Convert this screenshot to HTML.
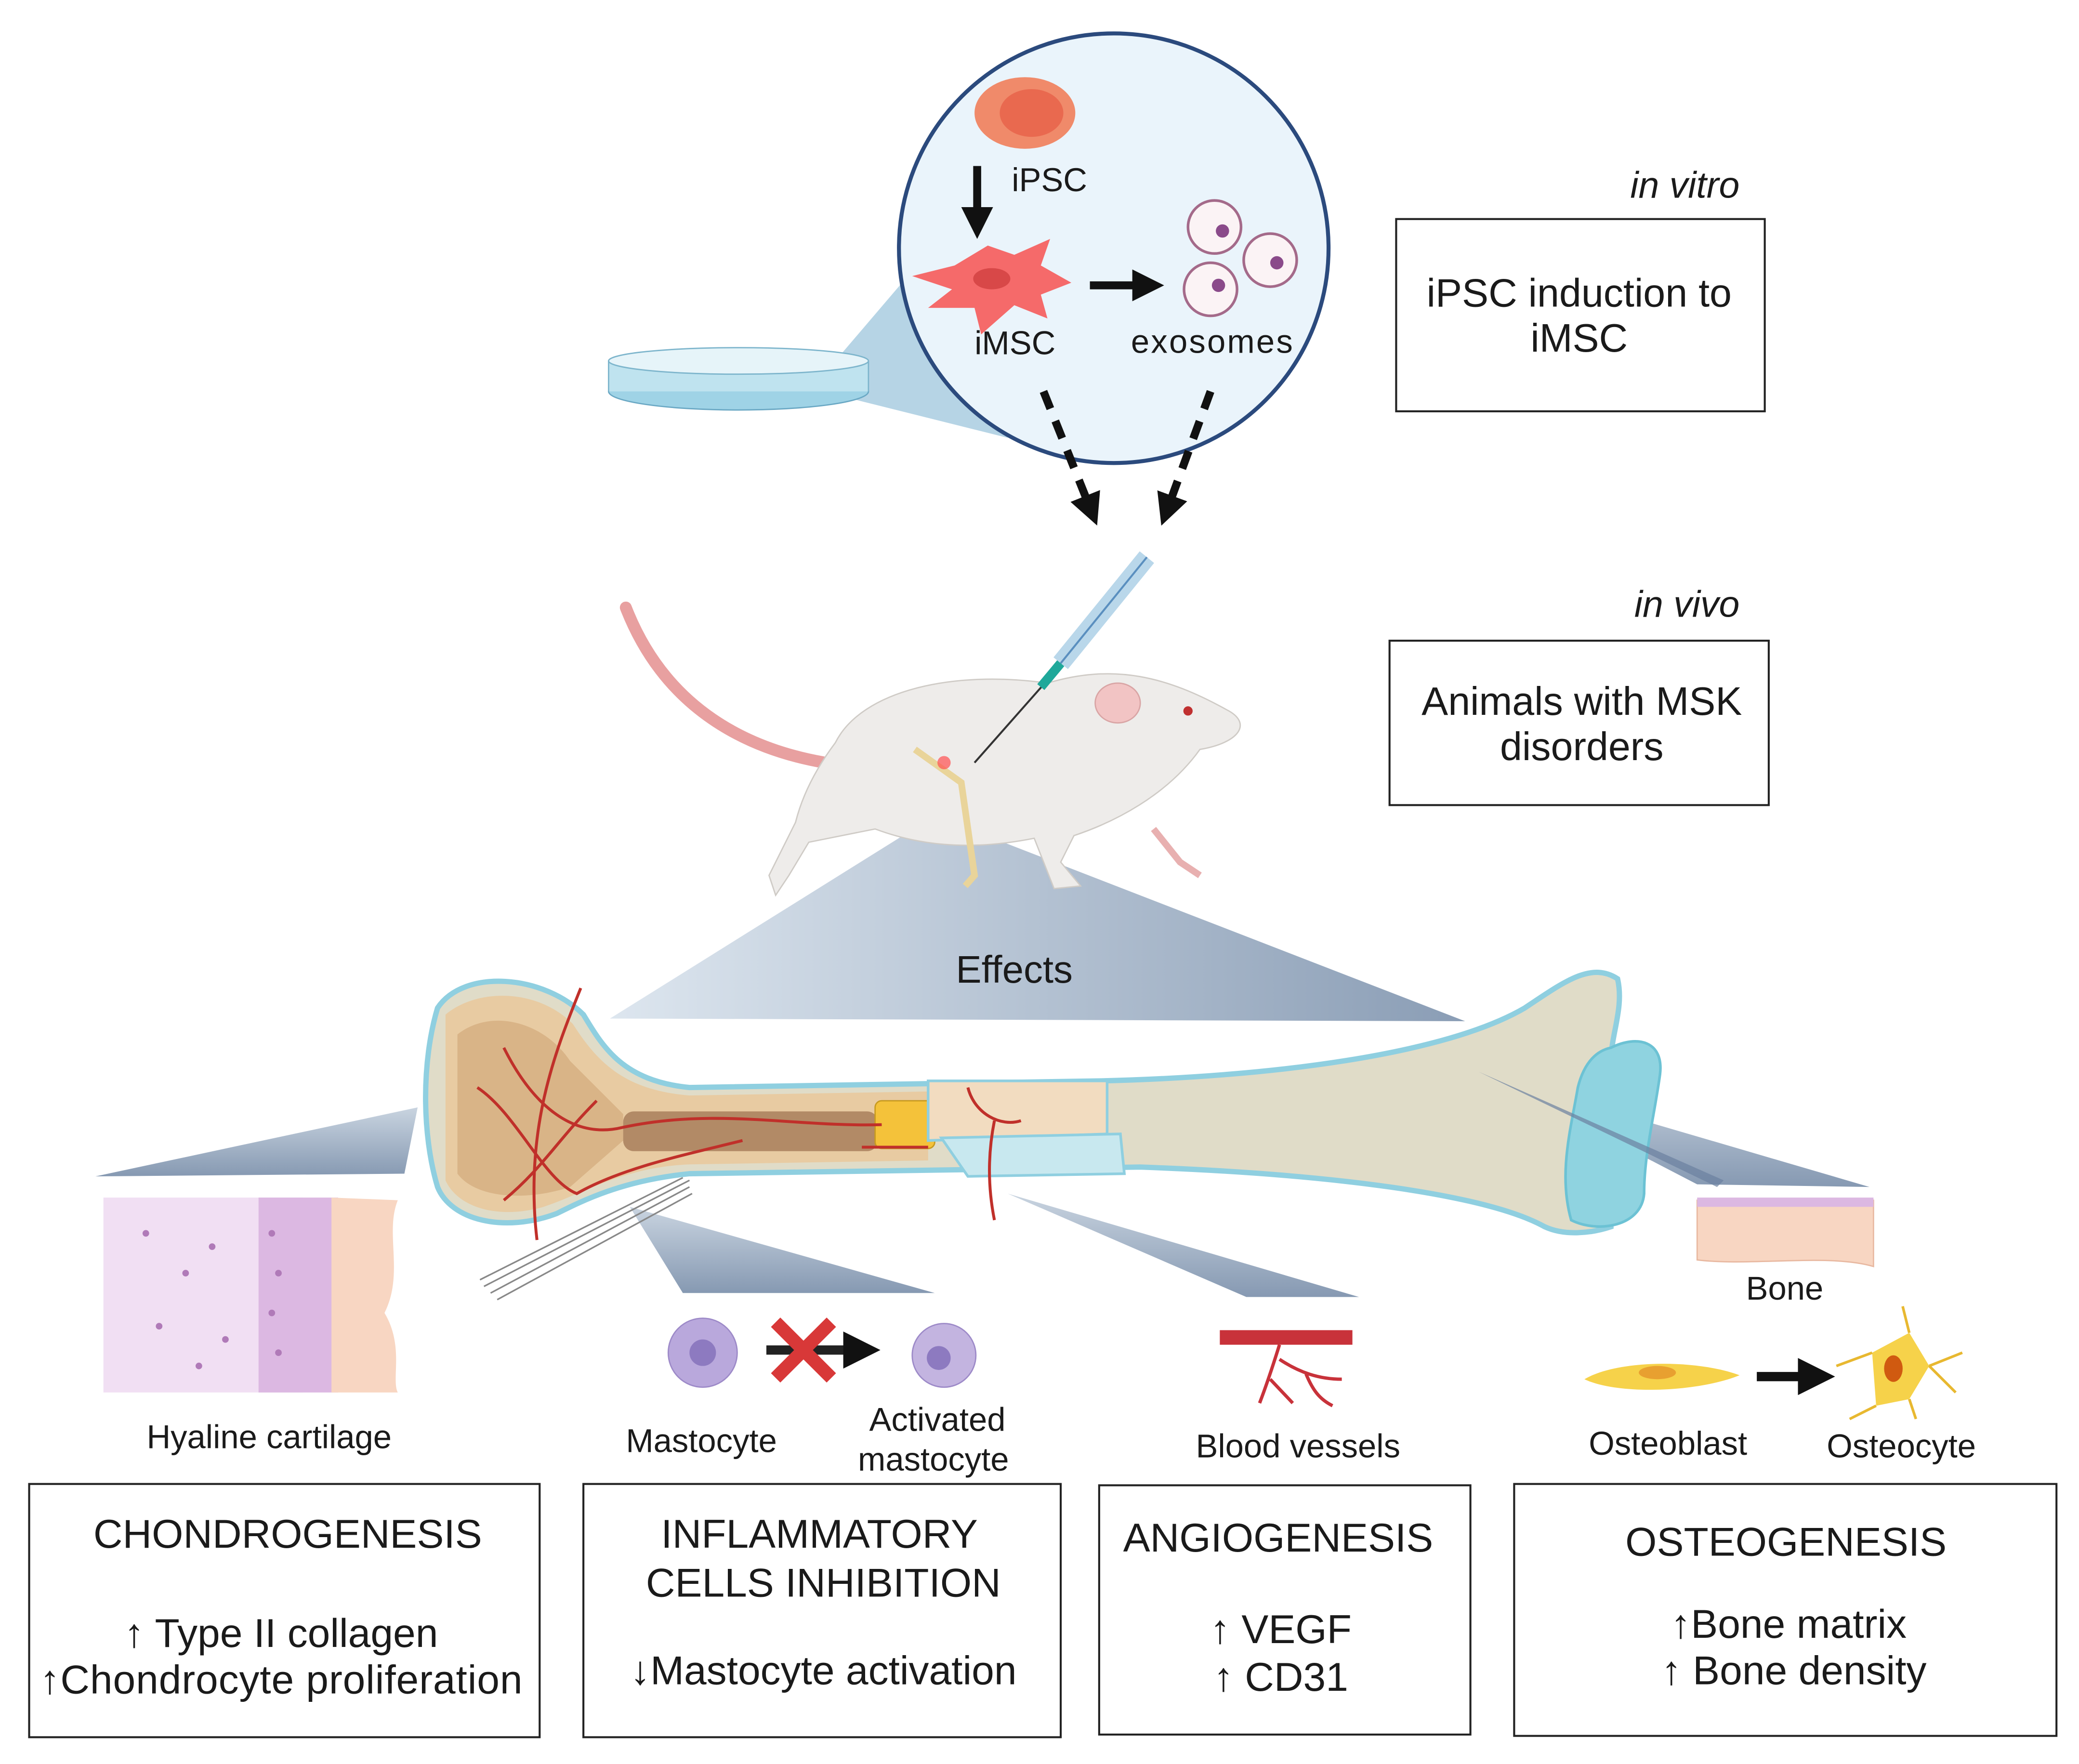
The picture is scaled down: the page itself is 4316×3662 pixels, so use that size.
<!DOCTYPE html>
<html><head><meta charset="utf-8"><style>
html,body{margin:0;padding:0;background:#fff}
svg{display:block}
text{font-family:"Liberation Sans",Arial,sans-serif;fill:#1a1a1a}
</style></head><body>
<svg width="4316" height="3662" viewBox="0 0 1568 1330" xmlns="http://www.w3.org/2000/svg">
<defs>
<linearGradient id="tri" x1="0" x2="1" y1="0" y2="0"><stop offset="0" stop-color="#dde6ef"/><stop offset="1" stop-color="#8a9db5"/></linearGradient>
<linearGradient id="wedge" x1="0" x2="0" y1="0" y2="1"><stop offset="0" stop-color="#c9d4e0"/><stop offset="1" stop-color="#8699b2"/></linearGradient>
<marker id="ah" markerWidth="4" markerHeight="4" refX="2" refY="2" orient="auto"><path d="M0,0 L4,2 L0,4 Z" fill="#111"/></marker>
</defs>
<rect width="1568" height="1330" fill="#fff"/>

<polygon points="630,272 700,190 760,330 640,300" fill="#a9cde0" opacity="0.85"/>
<ellipse cx="557" cy="295" rx="98" ry="14" fill="#9fd3e6" stroke="#6aa8c4"/>
<rect x="459" y="272" width="196" height="23" fill="#bfe3ef" stroke="none"/>
<ellipse cx="557" cy="272" rx="98" ry="10" fill="#e6f4f9" stroke="#7db5cc"/>
<line x1="459" y1="272" x2="459" y2="295" stroke="#7db5cc"/><line x1="655" y1="272" x2="655" y2="295" stroke="#7db5cc"/>

<circle cx="840" cy="187" r="162" fill="#eaf4fb" stroke="#2b4a7d" stroke-width="3"/>
<ellipse cx="773" cy="85" rx="38" ry="27" fill="#f08a6a"/><ellipse cx="778" cy="85" rx="24" ry="18" fill="#e9694f"/>
<line x1="737" y1="125" x2="737" y2="168" stroke="#111" stroke-width="6" marker-end="url(#ah)"/>
<text x="763" y="144" font-size="25">iPSC</text>
<path d="M688,208 L720,200 L745,185 L765,192 L792,180 L785,200 L808,213 L785,222 L790,240 L765,230 L740,252 L735,232 L700,232 L718,218 Z" fill="#f56a6a"/>
<ellipse cx="748" cy="210" rx="14" ry="8" fill="#d84848"/>
<text x="735" y="267" font-size="25">iMSC</text>
<line x1="822" y1="215" x2="866" y2="215" stroke="#111" stroke-width="6" marker-end="url(#ah)"/>
<g fill="#fbf3f5" stroke="#a46a8a" stroke-width="2">
<circle cx="916" cy="171" r="20"/><circle cx="958" cy="196" r="20"/><circle cx="913" cy="218" r="20"/></g>
<g fill="#8a4a8a"><circle cx="922" cy="174" r="5"/><circle cx="963" cy="198" r="5"/><circle cx="919" cy="215" r="5"/></g>
<text x="853" y="266" font-size="25" textLength="122">exosomes</text>
<line x1="787" y1="295" x2="823" y2="385" stroke="#111" stroke-width="6" stroke-dasharray="14,10" marker-end="url(#ah)"/>
<line x1="913" y1="295" x2="880" y2="385" stroke="#111" stroke-width="6" stroke-dasharray="14,10" marker-end="url(#ah)"/>

<text x="1312" y="149" font-size="28" font-style="italic" text-anchor="end">in vitro</text>
<rect x="1053" y="165" width="278" height="145" fill="#fff" stroke="#222" stroke-width="1.5"/>
<text x="1191" y="231" font-size="30" text-anchor="middle">iPSC induction to</text>
<text x="1191" y="265" font-size="30" text-anchor="middle">iMSC</text>
<text x="1312" y="465" font-size="28" font-style="italic" text-anchor="end">in vivo</text>
<rect x="1048" y="483" width="286" height="124" fill="#fff" stroke="#222" stroke-width="1.5"/>
<text x="1193" y="539" font-size="30" text-anchor="middle">Animals with MSK</text>
<text x="1193" y="573" font-size="30" text-anchor="middle">disorders</text>

<polygon points="705,615 460,768 1105,770" fill="url(#tri)"/>

<path d="M472,458 C500,530 560,570 645,578" fill="none" stroke="#e8a0a0" stroke-width="9" stroke-linecap="round"/>
<path d="M630,560 C650,520 720,505 790,515 C840,500 880,510 925,535 C945,545 935,560 905,565 C880,600 840,620 810,630 L800,650 L815,668 L795,670 L780,632 C740,640 700,640 660,625 L610,635 L595,660 L585,675 L580,660 L600,620 C605,600 615,580 630,560 Z" fill="#eeecea" stroke="#cfcbc6"/>
<path d="M870,625 L890,650 L905,660" fill="none" stroke="#e8b0b0" stroke-width="5"/>
<ellipse cx="843" cy="530" rx="17" ry="15" fill="#f2c4c4" stroke="#d9a5a5"/>
<circle cx="896" cy="536" r="3.5" fill="#c03030"/>
<path d="M690,565 L725,590 L735,660 L728,668" fill="none" stroke="#e9d49a" stroke-width="5"/>
<circle cx="712" cy="575" r="5" fill="#ff5050" opacity="0.7"/>
<line x1="788" y1="515" x2="735" y2="575" stroke="#333" stroke-width="1.5"/>
<line x1="800" y1="500" x2="785" y2="518" stroke="#1fa89a" stroke-width="7"/>
<line x1="865" y1="420" x2="800" y2="500" stroke="#b9d7ea" stroke-width="14"/>
<line x1="865" y1="420" x2="800" y2="500" stroke="#5a8fbf" stroke-width="1.5"/>

<polygon points="315,835 305,885 72,887" fill="url(#wedge)"/>
<polygon points="475,910 515,975 705,975" fill="url(#wedge)"/>
<polygon points="760,900 1025,978 940,978" fill="url(#wedge)"/>
<polygon points="1120,810 1410,895 1280,893" fill="url(#wedge)"/>
<g stroke="#888" stroke-width="1.2"><line x1="365" y1="970" x2="520" y2="890"/><line x1="370" y1="975" x2="520" y2="895"/><line x1="375" y1="980" x2="522" y2="900"/><line x1="362" y1="965" x2="515" y2="888"/></g>

<path d="M330,760 C350,730 410,735 440,765 C455,790 470,815 520,820 L830,815 C960,812 1090,795 1150,760 C1180,740 1200,725 1220,738 C1225,760 1215,780 1215,800 L1215,925 C1200,930 1180,932 1165,925 C1120,900 1000,885 860,880 L520,885 C470,890 440,905 420,915 C380,930 340,920 330,895 C318,855 318,800 330,760 Z" fill="#e0dcc8" stroke="#8fcfe0" stroke-width="4"/>
<path d="M336,765 C360,745 405,745 432,772 C450,800 470,822 520,826 L700,823 L700,875 L520,878 C470,880 440,900 410,910 C375,920 345,910 336,890 Z" fill="#e8cba2"/>
<path d="M345,780 C370,760 410,770 430,800 L470,840 L470,860 L430,895 C400,905 360,905 345,885 Z" fill="#d9b487"/>
<rect x="470" y="838" width="192" height="30" rx="8" fill="#b28a66"/>
<rect x="660" y="830" width="45" height="36" rx="5" fill="#f4c23a" stroke="#c79a20"/>
<path d="M700,815 L835,815 L835,855 L700,860 Z" fill="#f2dcc0" stroke="#8fcfe0" stroke-width="2"/>
<path d="M710,858 L845,855 L848,885 L730,887 Z" fill="#c8e8ef" stroke="#8fcfe0" stroke-width="2"/>
<path d="M1215,790 C1235,780 1255,785 1252,810 C1248,840 1240,870 1240,900 C1238,925 1205,930 1185,920 C1175,885 1185,850 1190,820 C1195,800 1205,792 1215,790 Z" fill="#8fd3e0" stroke="#6cc2d4" stroke-width="2"/>
<polygon points="1115,808 1300,890 1295,895" fill="#6b80a0" opacity="0.7"/>
<g fill="none" stroke="#c0302a" stroke-width="2.2">
<path d="M438,745 C420,790 395,850 405,935"/>
<path d="M380,790 C400,830 430,860 470,850 C540,835 600,850 665,848"/>
<path d="M360,820 C390,840 410,890 435,900 C470,880 520,870 560,860"/>
<path d="M380,905 C410,880 420,860 450,830"/>
<path d="M750,845 C745,870 745,895 750,920"/>
<path d="M650,865 L700,865 M730,820 C735,840 755,850 770,845"/>
</g>

<rect x="78" y="903" width="150" height="147" fill="#f1dff3"/>
<rect x="195" y="903" width="60" height="147" fill="#dcb8e2"/>
<path d="M250,903 L300,905 C290,930 305,960 290,990 C305,1015 295,1040 300,1050 L250,1050 Z" fill="#f8d6c2"/>
<g fill="#b07ab8"><circle cx="110" cy="930" r="2.5"/><circle cx="140" cy="960" r="2.5"/><circle cx="120" cy="1000" r="2.5"/><circle cx="160" cy="940" r="2.5"/><circle cx="170" cy="1010" r="2.5"/><circle cx="150" cy="1030" r="2.5"/><circle cx="205" cy="930" r="2.5"/><circle cx="210" cy="960" r="2.5"/><circle cx="205" cy="990" r="2.5"/><circle cx="210" cy="1020" r="2.5"/></g>
<text x="203" y="1092" font-size="25" text-anchor="middle">Hyaline cartilage</text>

<circle cx="530" cy="1020" r="26" fill="#b9a8dc" stroke="#9d8ac8"/><circle cx="530" cy="1020" r="10" fill="#8d7ac0"/>
<line x1="578" y1="1018" x2="650" y2="1018" stroke="#222" stroke-width="7" marker-end="url(#ah)"/>
<g stroke="#d83838" stroke-width="10"><line x1="585" y1="997" x2="627" y2="1039"/><line x1="627" y1="997" x2="585" y2="1039"/></g>
<circle cx="712" cy="1022" r="24" fill="#c3b4e0" stroke="#9d8ac8"/><circle cx="708" cy="1024" r="9" fill="#8d7ac0"/>
<text x="529" y="1095" font-size="25" text-anchor="middle">Mastocyte</text>
<text x="707" y="1079" font-size="25" text-anchor="middle">Activated</text>
<text x="704" y="1109" font-size="25" text-anchor="middle">mastocyte</text>

<rect x="920" y="1003" width="100" height="11" fill="#c8323a"/>
<path d="M965,1014 C960,1030 955,1045 950,1058 M965,1025 C980,1035 995,1040 1012,1040 M985,1036 C990,1048 995,1055 1005,1060 M958,1040 L975,1058" fill="none" stroke="#c8323a" stroke-width="2.5"/>
<text x="979" y="1099" font-size="25" text-anchor="middle">Blood vessels</text>

<path d="M1280,905 L1413,905 L1413,955 C1380,945 1320,955 1280,950 Z" fill="#f8d6c2" stroke="#e8b8a0"/>
<rect x="1280" y="903" width="133" height="7" fill="#dcb8e2"/>
<text x="1346" y="980" font-size="25" text-anchor="middle">Bone</text>
<path d="M1195,1040 C1220,1025 1280,1025 1312,1037 C1280,1050 1220,1052 1195,1040 Z" fill="#f6d24a"/>
<ellipse cx="1250" cy="1035" rx="14" ry="5" fill="#e8a030"/>
<line x1="1325" y1="1038" x2="1370" y2="1038" stroke="#111" stroke-width="7" marker-end="url(#ah)"/>
<path d="M1412,1020 L1440,1005 L1455,1030 L1440,1055 L1415,1060 Z" fill="#f6d24a"/>
<g stroke="#e8b830" stroke-width="2" fill="none"><path d="M1440,1005 L1435,985 M1455,1030 L1480,1020 M1455,1030 L1475,1050 M1415,1060 L1395,1070 M1412,1020 L1385,1030 M1440,1055 L1445,1070"/></g>
<ellipse cx="1428" cy="1032" rx="7" ry="10" fill="#d05a10"/>
<text x="1258" y="1097" font-size="25" text-anchor="middle">Osteoblast</text>
<text x="1434" y="1099" font-size="25" text-anchor="middle">Osteocyte</text>

<g fill="#fff" stroke="#222" stroke-width="1.5">
<rect x="22" y="1119" width="385" height="191"/><rect x="440" y="1119" width="360" height="191"/>
<rect x="829" y="1120" width="280" height="188"/><rect x="1142" y="1119" width="409" height="190"/></g>
<g font-size="30.5" text-anchor="middle">
<text x="217" y="1167">CHONDROGENESIS</text>
<text x="212" y="1242">↑ Type II collagen</text>
<text x="212" y="1277" textLength="364">↑Chondrocyte proliferation</text>
<text x="618" y="1167">INFLAMMATORY</text>
<text x="621" y="1204">CELLS INHIBITION</text>
<text x="621" y="1270">↓Mastocyte activation</text>
<text x="964" y="1170">ANGIOGENESIS</text>
<text x="966" y="1239">↑ VEGF</text>
<text x="966" y="1275">↑ CD31</text>
<text x="1347" y="1173">OSTEOGENESIS</text>
<text x="1349" y="1235">↑Bone matrix</text>
<text x="1353" y="1270">↑ Bone density</text>
</g>
<text x="765" y="741" font-size="29" text-anchor="middle">Effects</text>
</svg>
</body></html>
